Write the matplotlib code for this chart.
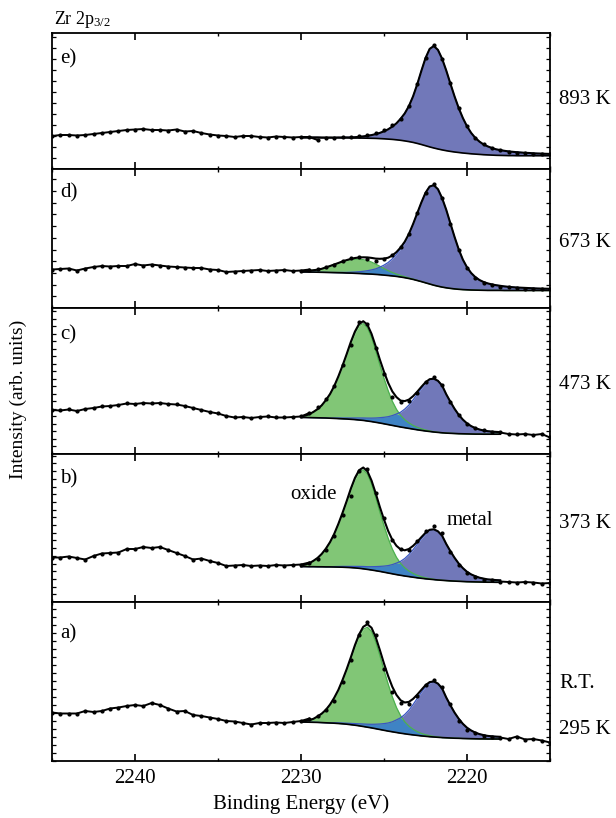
import numpy as np
import matplotlib
matplotlib.use("Agg")
import matplotlib.pyplot as plt
from matplotlib.ticker import MultipleLocator, NullFormatter

plt.rcParams['font.family'] = ['Liberation Serif', 'DejaVu Serif']
plt.rcParams['mathtext.fontset'] = 'custom'
plt.rcParams['mathtext.rm'] = 'Liberation Serif'
plt.rcParams['mathtext.it'] = 'Liberation Serif:italic'

# ---------------- data ----------------
E_DATA = [2245, 2244.5, 2244, 2243.5, 2243, 2242.5, 2242, 2241.5, 2241, 2240.5,
          2240, 2239.5, 2239, 2238.5, 2238, 2237.5, 2237, 2236.5, 2236, 2235.5,
          2235, 2234.5, 2234, 2233.5, 2233, 2232.5, 2232, 2231.5, 2231, 2230.5,
          2230, 2229.5, 2229, 2228.5, 2228, 2227.5, 2227, 2226.5, 2226, 2225.5,
          2225, 2224.5, 2224, 2223.5, 2223, 2222.5, 2222, 2221.5, 2221, 2220.5,
          2220, 2219.5, 2219, 2218.5, 2218, 2217.5, 2217, 2216.5, 2216, 2215.5, 2215]

E_FIT = [2230, 2229.75, 2229.5, 2229.25, 2229, 2228.75, 2228.5, 2228.25, 2228, 2227.75,
         2227.5, 2227.25, 2227, 2226.75, 2226.5, 2226.25, 2226, 2225.75, 2225.5, 2225.25,
         2225, 2224.75, 2224.5, 2224.25, 2224, 2223.75, 2223.5, 2223.25, 2223, 2222.75,
         2222.5, 2222.25, 2222, 2221.75, 2221.5, 2221.25, 2221, 2220.75, 2220.5, 2220.25,
         2220, 2219.75, 2219.5, 2219.25, 2219, 2218.75, 2218.5, 2218.25, 2218, 2217.75,
         2217.5, 2217.25, 2217, 2216.75, 2216.5, 2216.25, 2216, 2215.75, 2215.5, 2215.25, 2215]

# measured spectra
DATA_E = [33, 34, 34, 33.5, 34, 35, 36, 37, 38, 39, 39.5, 40, 39, 39, 38.5, 39.5, 37.5, 38, 36, 34.5,
          33.5, 33, 32, 33, 33, 32, 31.5, 32.5, 32, 31.5, 32, 32, 29, 31, 31.5, 32, 32.5, 33.5, 34, 36,
          39, 44, 50, 63, 85, 111, 124, 110, 86, 61, 43, 31, 25, 21, 19, 17.5, 16.5, 16, 15.5, 15.5, 15]
DATA_D = [38.5, 39, 39.5, 37.5, 39.5, 41, 42, 41.5, 42, 42, 44, 42.5, 43.5, 42.5, 41.5, 41, 40.5, 40, 40, 38.5,
          38, 36, 36.5, 37, 37.5, 38, 37, 37.5, 38, 37, 37.5, 38.5, 39.5, 41.5, 43.5, 47, 50, 51.5, 49, 47,
          49.5, 53.5, 61, 74, 95, 115, 124, 110, 84, 58, 40, 30, 25, 23, 21.5, 21, 20, 19.5, 19.5, 19, 19]
DATA_C = [44, 43.5, 44.5, 43, 45, 46, 47.5, 48, 49, 50.5, 50, 51, 50.5, 51, 50, 49.5, 48, 46, 44, 42,
          40.5, 38, 36.5, 37, 36, 37, 37.5, 36.5, 36.5, 37, 37.5, 41, 47, 55, 68, 89, 109, 132, 130, 106,
          80, 57, 51.5, 52.5, 61, 72, 77, 69, 52, 38.5, 30, 26, 23.5, 22, 21.5, 20, 19.5, 20, 19, 20, 16.5]
DATA_B = [44.5, 44.5, 45.5, 44, 42.5, 46, 48.5, 49, 49.5, 53, 53, 55, 54, 55, 52, 49, 46, 42.5, 43.5, 41,
          39, 36, 36.5, 37, 36, 36.5, 36, 37, 36.5, 37, 37.5, 39.5, 43, 52, 66, 87, 106, 131, 133, 109,
          84, 62, 53, 52, 61, 71, 76, 69, 50, 37, 29, 25, 22.5, 22, 20.5, 20, 19.5, 20, 19.5, 18.5, 19]
DATA_A = [48.5, 47.5, 47.5, 47.5, 50, 49, 50, 52.5, 53.5, 55, 56, 55, 58, 56, 52.5, 49.5, 50, 46, 45, 43.5,
          42, 40, 39.5, 38, 36.5, 38, 38, 38.5, 38, 39, 40, 42.5, 45, 51, 60, 79, 101, 126, 139, 126,
          92, 69, 58, 57.5, 65, 76.5, 81, 74.5, 57, 40, 31.5, 28, 25.5, 24, 23.5, 22, 24.5, 21.5, 22, 20.5, 18.5]

# Shirley backgrounds
BG_E = [31.5, 31.5, 31.5, 31.5, 31.5, 31.4, 31.4, 31.4, 31.3, 31.3, 31.2, 31.2, 31.1, 31.0, 31.0, 30.9,
        30.8, 30.7, 30.6, 30.4, 30.2, 29.9, 29.6, 29.2, 28.7, 28.1, 27.4, 26.6, 25.6, 24.5, 23.3, 22.1,
        21.0, 20.0, 19.1, 18.3, 17.6, 17.0, 16.5, 16.0, 15.6, 15.2, 14.9, 14.6, 14.3, 14.1, 13.9, 13.7,
        13.6, 13.5, 13.4, 13.4, 13.3, 13.3, 13.3, 13.3, 13.3, 13.3, 13.3, 13.3, 13.3]
BG_D = [36.0, 36.0, 35.9, 35.9, 35.8, 35.7, 35.6, 35.5, 35.4, 35.3, 35.2, 35.0, 34.9, 34.7, 34.5, 34.3,
        34.1, 33.9, 33.6, 33.3, 32.9, 32.5, 32.1, 31.6, 31.0, 30.3, 29.5, 28.6, 27.5, 26.4, 25.2, 24.0,
        22.8, 21.8, 20.9, 20.2, 19.6, 19.1, 18.7, 18.4, 18.2, 18.0, 17.9, 17.8, 17.7, 17.6, 17.6, 17.6,
        17.6, 17.5, 17.5, 17.5, 17.5, 17.5, 17.5, 17.5, 17.5, 17.5, 17.5, 17.5, 17.5]
BG_C = [36.5, 36.5, 36.4, 36.3, 36.2, 36.1, 36.0, 35.8, 35.6, 35.4, 35.2, 35.0, 34.7, 34.4, 34.0, 33.6,
        33.0, 32.4, 31.7, 31.0, 30.2, 29.4, 28.6, 27.8, 27.0, 26.3, 25.6, 24.9, 24.2, 23.6, 23.0, 22.5,
        22.0, 21.6, 21.2, 20.9, 20.7, 20.5, 20.3, 20.2, 20.1, 20.0, 19.9, 19.9, 19.8, 19.8, 19.8, 19.8,
        19.8, 19.8, 19.8, 19.8, 19.8, 19.8, 19.8, 19.8, 19.8, 19.8, 19.8, 19.8, 19.8]
BG_B = [35.4, 35.4, 35.3, 35.3, 35.2, 35.2, 35.1, 35.1, 35.0, 34.9, 34.8, 34.6, 34.4, 34.1, 33.7, 33.2,
        32.6, 32.0, 31.3, 30.6, 29.8, 29.0, 28.2, 27.4, 26.7, 26.0, 25.4, 24.8, 24.2, 23.7, 23.2, 22.8,
        22.4, 22.0, 21.7, 21.4, 21.1, 20.9, 20.7, 20.5, 20.3, 20.2, 20.1, 20.0, 19.9, 19.8, 19.8, 19.7,
        19.7, 19.7, 19.7, 19.7, 19.7, 19.7, 19.7, 19.7, 19.7, 19.7, 19.7, 19.7, 19.7]
BG_A = [39.0, 38.9, 38.8, 38.7, 38.6, 38.4, 38.2, 38.0, 37.8, 37.5, 37.2, 36.8, 36.3, 35.8, 35.2, 34.5,
        33.8, 33.1, 32.3, 31.5, 30.7, 29.9, 29.2, 28.5, 27.8, 27.2, 26.6, 26.1, 25.6, 25.1, 24.7, 24.3,
        24.0, 23.7, 23.4, 23.2, 23.0, 22.8, 22.7, 22.5, 22.4, 22.3, 22.2, 22.1, 22.1, 22.0, 22.0, 22.0,
        22.0, 22.0, 22.0, 22.0, 22.0, 22.0, 22.0, 22.0, 22.0, 22.0, 22.0, 22.0, 22.0]

# oxide (ZrO2) components
OX_E = [0.0] * 61
OX_D = [0.5, 0.9, 1.3, 1.9, 2.5, 3.5, 5, 6.5, 8, 9.5, 11, 12.3, 13.3, 14, 14.2, 14, 13.3, 12, 10.3, 8.4,
        6.5, 4.8, 3.4, 2.3, 1.5, 1, 0.6, 0.3, 0.2, 0.1, 0, 0, 0, 0, 0, 0, 0, 0, 0, 0,
        0, 0, 0, 0, 0, 0, 0, 0, 0, 0, 0, 0, 0, 0, 0, 0, 0, 0, 0, 0, 0]
OX_C = [1.0, 1.9, 3.4, 5.8, 8.7, 12.6, 17.9, 24.2, 31.9, 41.6, 52.3, 63.9, 76.0, 86.5, 94.1, 96.8,
        93.4, 84.2, 71.6, 58.1, 45.5, 33.9, 24.2, 16.9, 11.6, 8.0, 5.5, 3.7, 2.5, 1.6, 1.0, 0.6, 0.3, 0.1,
        0, 0, 0, 0, 0, 0, 0, 0, 0, 0, 0, 0, 0, 0, 0, 0, 0, 0, 0, 0, 0, 0, 0, 0, 0, 0, 0]
OX_B = [1.0, 2.0, 3.5, 5.9, 8.9, 12.9, 18.3, 24.8, 32.7, 42.6, 53.5, 65.3, 77.7, 88.5, 96.2, 99,
        95.5, 86.1, 73.3, 59.4, 46.5, 34.7, 24.8, 17.3, 11.9, 8.2, 5.6, 3.8, 2.5, 1.6, 1.0, 0.6, 0.3, 0.1,
        0, 0, 0, 0, 0, 0, 0, 0, 0, 0, 0, 0, 0, 0, 0, 0, 0, 0, 0, 0, 0, 0, 0, 0, 0, 0, 0]
OX_A = [0.5, 1, 2, 3.5, 6, 9, 13, 18.5, 25, 33, 43, 54, 66, 78.5, 89.4, 97.2, 100, 96.5, 87, 74,
        60, 47, 35, 25, 17.5, 12, 8.3, 5.7, 3.8, 2.5, 1.6, 1.0, 0.6, 0.3, 0.1,
        0, 0, 0, 0, 0, 0, 0, 0, 0, 0, 0, 0, 0, 0, 0, 0, 0, 0, 0, 0, 0, 0, 0, 0, 0, 0]

# metallic Zr components
MET_E = [0, 0, 0, 0, 0, 0, 0, 0, 0.1, 0.2, 0.3, 0.4, 0.5, 0.8, 1.2, 1.7, 2.4, 3.2, 4.3, 5.7,
         7.5, 9.8, 12.8, 16.5, 21.5, 27.5, 35.5, 46, 59, 73.6, 87.6, 98, 102, 99.1, 91.2, 80.2,
         67.8, 55.6, 44.5, 35, 27.1, 20.9, 16.2, 12.8, 10.2, 8.5, 7.1, 6.0, 5.3, 4.7, 4.2, 3.8,
         3.5, 3.2, 2.9, 2.7, 2.4, 2.2, 2.1, 1.9, 1.8]
MET_D = [0, 0, 0, 0, 0, 0, 0, 0, 0.1, 0.2, 0.4, 0.6, 0.9, 1.3, 1.8, 2.4, 3.2, 4.2, 5.5, 7.5,
         10, 13, 17, 22, 28, 35, 44, 55, 67, 79, 90, 97.5, 100, 97, 89, 78, 65, 52, 40, 30,
         22.5, 17, 13, 10.2, 8.3, 7, 6, 5.2, 4.6, 4.1, 3.7, 3.3, 3, 2.8, 2.6, 2.4, 2.2, 2.0,
         1.9, 1.8, 1.7]
MET_C = [0, 0, 0, 0, 0, 0, 0, 0, 0.4, 0.6, 0.8, 1.0, 1.3, 1.6, 2.0, 2.4, 2.9, 3.5, 4.3, 5.3,
         6.5, 7.9, 9.8, 12.2, 14.8, 18.6, 23.3, 29.2, 35.5, 41.9, 47.7, 51.7, 53, 51.5, 47.3, 38.8,
         31.5, 24.7, 18.9, 14.2, 10.5, 7.9, 6, 4.6, 3.7, 3.0, 2.6, 2.3, 2.1, 1.9, 1.7, 1.6, 1.5,
         1.4, 1.3, 1.2, 1.1, 1.0, 1.0, 0.9, 0.9]
MET_B = [0, 0, 0, 0, 0, 0, 0, 0, 0.4, 0.6, 0.8, 1.0, 1.2, 1.5, 1.9, 2.3, 2.7, 3.3, 4.1, 5.0,
         6.1, 7.4, 9.2, 11.5, 14, 17.5, 22, 27.5, 33.5, 39.5, 45, 48.8, 50, 48.6, 44.6, 36.6, 29.7,
         23.3, 17.8, 13.4, 9.9, 7.4, 5.7, 4.3, 3.5, 2.8, 2.5, 2.2, 2.0, 1.8, 1.6, 1.5, 1.4, 1.3,
         1.2, 1.1, 1.0, 0.9, 0.9, 0.8, 0.8]
MET_A = [0, 0, 0, 0, 0, 0, 0, 0, 0.4, 0.6, 0.8, 1.0, 1.3, 1.6, 2.0, 2.5, 3.0, 3.6, 4.5, 5.5,
         6.7, 8.1, 10, 12.6, 15.4, 19.3, 24.2, 30.3, 36.9, 43.5, 49.5, 53.6, 55, 53.4, 49.1, 40.3,
         32.7, 25.6, 19.6, 14.7, 10.9, 8.2, 6.2, 4.8, 3.8, 3.1, 2.7, 2.4, 2.2, 2.0, 1.8, 1.7, 1.6,
         1.5, 1.4, 1.3, 1.2, 1.1, 1.0, 1.0, 0.9]

PANEL_LABELS = ["e)", "d)", "c)", "b)", "a)"]
TEMPS = ["893 K", "673 K", "473 K", "373 K", "295 K"]
XTICKS = [2240, 2230, 2220]

# ---------------- layout / style ----------------
W, H = 616, 818
L_PX, R_PX = 52, 550
PANEL_PX = [(33, 169), (169, 308), (308, 454), (454, 602), (602, 761)]
YTICK_STEP = [11, 11.7, 7.5, 7.7, 8]
LABEL_BASE = [63, 197, 339, 483, 638]
TEMP_BASE = [104, 247, 389, 528, 734]
FIT_LO = [2215, 2215, 2218, 2218, 2218]
DATA_HI = [2229, 2229.5, 2229.5, 2229.5, 2229.5]

C_OX = '#81C676'
C_MET = '#7178B9'
C_OV = '#3F83C4'
C_OXL = '#4DB04F'
C_METL = '#3A56C2'

datas = [DATA_E, DATA_D, DATA_C, DATA_B, DATA_A]
bgs = [BG_E, BG_D, BG_C, BG_B, BG_A]
oxs = [OX_E, OX_D, OX_C, OX_B, OX_A]
mets = [MET_E, MET_D, MET_C, MET_B, MET_A]


def fx(x):
    return x / W


def fy(y):
    return 1 - y / H


fig = plt.figure(figsize=(W / 100, H / 100), dpi=100)

Ed = np.array(E_DATA, dtype=float)
Ef = np.array(E_FIT, dtype=float)

for k in range(5):
    top, bot = PANEL_PX[k]
    ax = fig.add_axes([fx(L_PX), fy(bot), (R_PX - L_PX) / W, (bot - top) / H])
    ax.set_xlim(2245, 2215)
    ax.set_ylim(0, bot - top)

    Id = np.array(datas[k], dtype=float)
    bg = np.array(bgs[k], dtype=float)
    ox = np.array(oxs[k], dtype=float)
    met = np.array(mets[k], dtype=float)
    tot = bg + ox + met
    m = Ef >= FIT_LO[k]

    ax.fill_between(Ef[m], bg[m], bg[m] + met[m], color=C_MET, lw=0, zorder=1)
    if ox.max() > 0:
        ax.fill_between(Ef[m], bg[m], bg[m] + ox[m], color=C_OX, lw=0, zorder=2)
        ov = np.minimum(ox, met)
        ax.fill_between(Ef[m], bg[m], bg[m] + ov[m], color=C_OV, lw=0, zorder=3)
        ax.plot(Ef[m], bg[m] + ox[m], color=C_OXL, lw=0.9, zorder=4)
    ax.plot(Ef[m], bg[m] + met[m], color=C_METL, lw=0.9, zorder=4)
    ax.plot(Ef[m], bg[m], color='black', lw=1.2, zorder=5)
    ax.plot(Ef[m], tot[m], color='black', lw=1.5, zorder=6)

    left = Ed >= DATA_HI[k]
    ax.plot(Ed[left], Id[left], color='black', lw=1.4, zorder=6)
    if FIT_LO[k] > 2215:
        right = Ed <= FIT_LO[k]
        ax.plot(Ed[right], Id[right], color='black', lw=1.4, zorder=6)
    ax.plot(Ed, Id, linestyle='none', marker='o', ms=2.0, color='black', zorder=7)

    for sp in ax.spines.values():
        sp.set_linewidth(1.3)
    ax.set_xticks(XTICKS)
    ax.xaxis.set_minor_locator(MultipleLocator(5))
    ax.yaxis.set_major_locator(MultipleLocator(YTICK_STEP[k]))
    ax.yaxis.set_major_formatter(NullFormatter())
    ax.tick_params(axis='x', which='major', direction='in', top=True, bottom=True,
                   length=5, width=1.2, labelsize=15, pad=6, labelbottom=(k == 4))
    ax.tick_params(axis='x', which='minor', direction='in', top=True, bottom=True,
                   length=2.5, width=1.0)
    ax.tick_params(axis='y', which='major', direction='in', left=True, right=True,
                   length=3, width=0.9)

    fig.text(fx(60), fy(LABEL_BASE[k]), PANEL_LABELS[k], fontsize=15,
             va='baseline', ha='left')
    fig.text(fx(559), fy(TEMP_BASE[k]), TEMPS[k], fontsize=15,
             va='baseline', ha='left')

fig.text(fx(559), fy(688), "R.T.", fontsize=15, va='baseline', ha='left')
fig.text(fx(54), fy(24), r"Zr 2p$_{3/2}$", fontsize=13, va='baseline', ha='left')
fig.text(fx(290), fy(499), "oxide", fontsize=15, va='baseline', ha='left')
fig.text(fx(447), fy(525), "metal", fontsize=15, va='baseline', ha='left')
fig.text(fx(18), fy(399), "Intensity (arb. units)", fontsize=14, rotation=90,
         va='center', ha='center')
fig.text(fx(301), fy(804), "Binding Energy (eV)", fontsize=15, va='center', ha='center')

fig.savefig("out.png", dpi=100)
